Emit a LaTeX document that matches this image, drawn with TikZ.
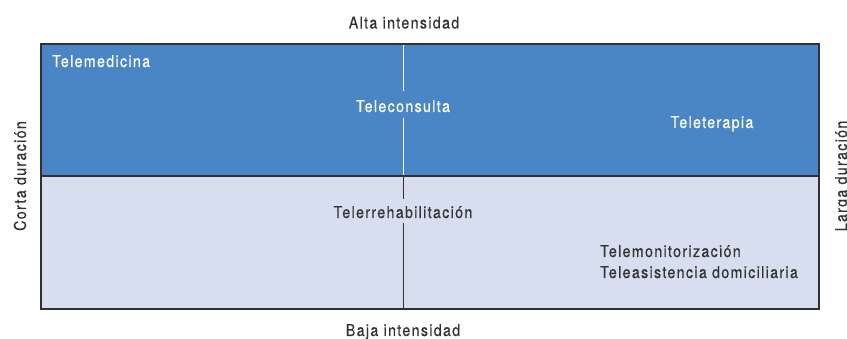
\documentclass[tikz,border=0pt]{standalone}
\usepackage{fontspec}
\setmainfont{TeX Gyre Heros}[FakeStretch=0.87, LetterSpace=8, FakeBold=0.4]
\definecolor{topblue}{HTML}{4A86C6}
\definecolor{lowblue}{HTML}{D6DEF0}
\definecolor{txtgray}{HTML}{333333}
\definecolor{framegray}{HTML}{303030}
\begin{document}
\begin{tikzpicture}[x=1pt,y=-1pt,
  lbl/.style={font=\fontsize{16.4}{19}\selectfont, inner sep=0pt, anchor=base},
  toplbl/.style={lbl, text=white},
  lowlbl/.style={lbl, text=txtgray},
  axislbl/.style={lbl, text=txtgray}]
\useasboundingbox (0,0) rectangle (847,339);
\fill[topblue] (41,44) rectangle (819,176);
\fill[lowblue] (41,176) rectangle (819,309);
% dividers
\draw[white, line width=1pt] (403,44) -- (403,91);
\draw[white, line width=1pt] (403,118) -- (403,176);
\draw[framegray, line width=1pt] (403,176) -- (403,199);
\draw[framegray, line width=1pt] (403,223) -- (403,309);
\draw[framegray, line width=1.3pt] (41,176) -- (819,176);
\draw[framegray, line width=1.5pt] (41,44) rectangle (819,309);
% texts
\node[toplbl, anchor=base west] (tmed) at (52,67) {Telemedicina};
\node[toplbl] (tcons) at (403,112) {Teleconsulta};
\node[toplbl] (tter) at (712,128) {Teleterapia};
\node[lowlbl] (treh) at (403,218) {Telerrehabilitación};
\node[lowlbl, anchor=base west] (tmon) at (600,257) {Telemonitorización};
\node[lowlbl, anchor=base west] (tasi) at (600,278) {Teleasistencia domiciliaria};
\node[axislbl] (alta) at (404,28.5) {Alta intensidad};
\node[axislbl] (baja) at (403,336) {Baja intensidad};
\node[axislbl, rotate=90] (corta) at (26,176) {Corta duración};
\node[axislbl, rotate=90] (larga) at (847,176) {Larga duración};
\end{tikzpicture}
\end{document}
